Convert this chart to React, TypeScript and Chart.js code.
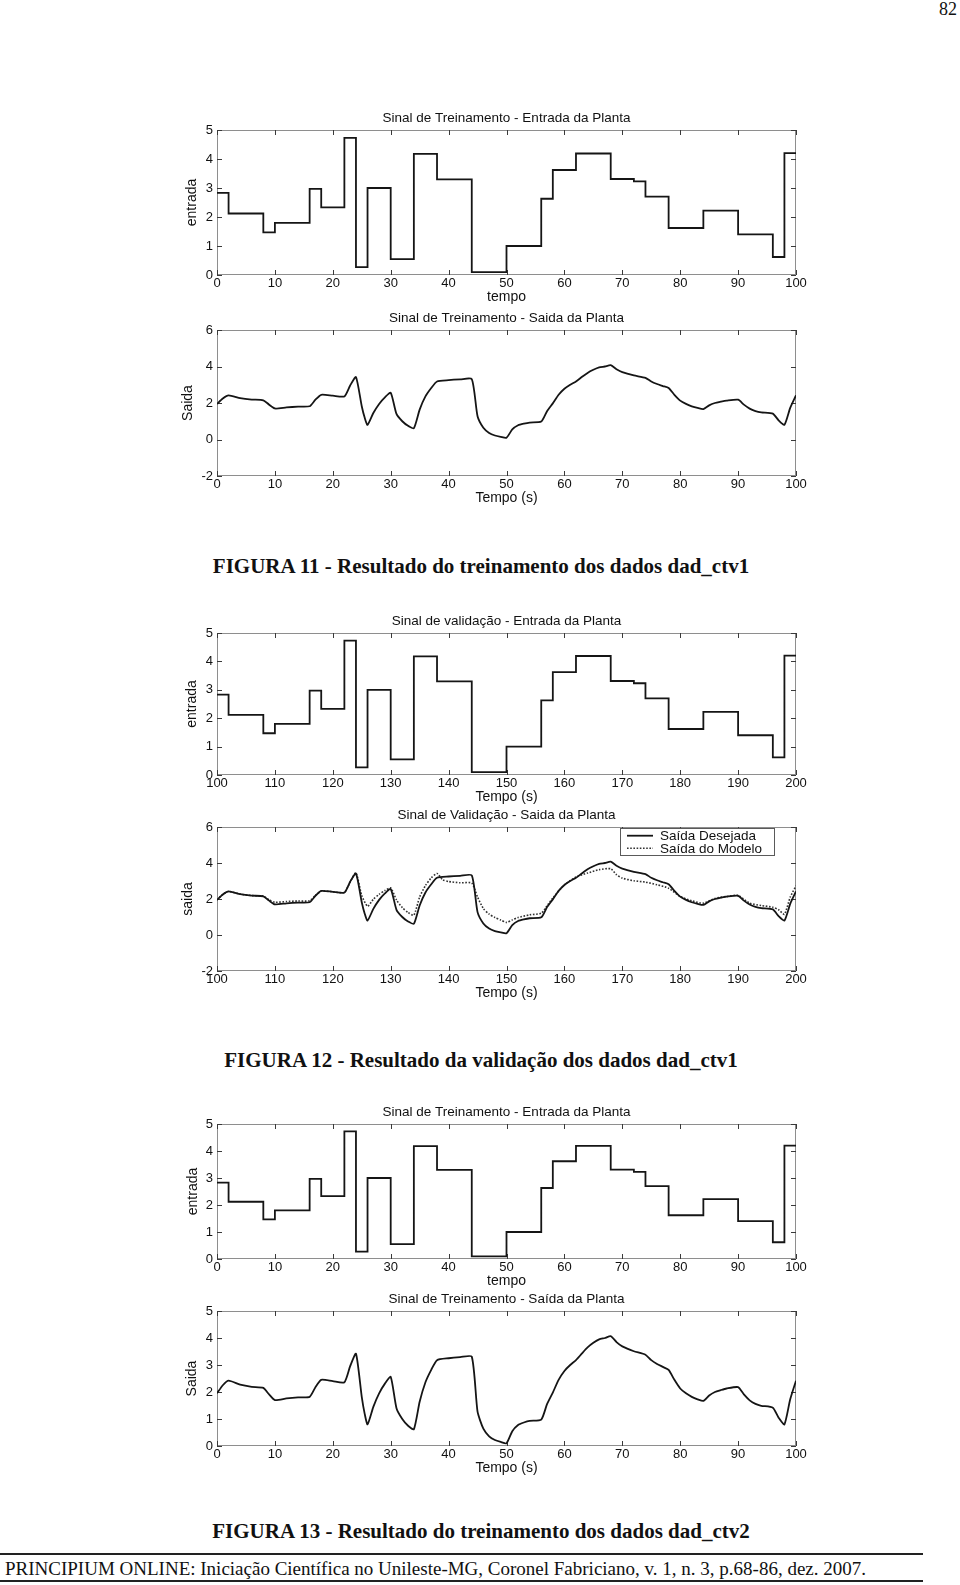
import React, { useEffect, useRef } from 'react';
import { Chart, registerables } from 'chart.js';

Chart.register(...registerables);

// ---------------- DATA ----------------
// Input (step) signal: value held from each time until the next one
const inputTimes = [0, 2, 8, 10, 16, 18, 22, 24, 26, 30, 34, 38, 44, 50, 56, 58, 62, 68, 72, 74, 78, 84, 90, 96, 98, 100];
const inputValues = [2.83, 2.12, 1.47, 1.8, 2.97, 2.33, 4.73, 0.27, 3.0, 0.55, 4.18, 3.3, 0.1, 1.0, 2.63, 3.62, 4.19, 3.31, 3.23, 2.7, 1.62, 2.22, 1.4, 0.62, 4.2, 4.2];

// Plant output (training / desired output)
const outputTimes = [0, 1, 2, 4, 6, 8, 9, 10, 12, 14, 16, 17, 18, 20, 22, 23, 24, 25, 25.5, 26, 27, 28, 29, 30, 31, 32, 33, 34, 35, 36, 37, 38, 40, 42, 44, 45, 46, 47, 48, 49, 50, 51, 52, 53, 54, 56, 57, 58, 59, 60, 61, 62, 63, 64, 65, 66, 67, 68, 69, 70, 72, 74, 75, 76, 77, 78, 79, 80, 81, 82, 83, 84, 85, 86, 87, 88, 90, 91, 92, 93, 94, 96, 97, 98, 99, 100];
const outputValues = [1.95, 2.25, 2.42, 2.27, 2.19, 2.15, 1.91, 1.7, 1.76, 1.8, 1.82, 2.18, 2.45, 2.4, 2.36, 2.96, 3.42, 1.82, 1.2, 0.8, 1.45, 1.95, 2.31, 2.56, 1.4, 1.0, 0.75, 0.62, 1.64, 2.36, 2.82, 3.18, 3.25, 3.29, 3.31, 1.27, 0.64, 0.36, 0.22, 0.15, 0.1, 0.55, 0.78, 0.87, 0.93, 0.98, 1.55, 1.98, 2.45, 2.78, 3.0, 3.18, 3.42, 3.65, 3.82, 3.95, 4.0, 4.07, 3.85, 3.69, 3.51, 3.38, 3.18, 3.04, 2.93, 2.82, 2.45, 2.13, 1.95, 1.82, 1.73, 1.67, 1.87, 2.0, 2.07, 2.13, 2.18, 1.91, 1.69, 1.56, 1.49, 1.42, 1.05, 0.8, 1.73, 2.42];

// Validation window starts at t = 100 s (same signal shown on 100..200)
const validationOffset = 100;

// Model output (validation)
const modelTimes = [100, 101, 102, 104, 106, 108, 109, 110, 112, 114, 116, 117, 118, 120, 122, 123, 124, 125, 126, 127, 128, 129, 130, 131, 132, 133, 134, 135, 136, 137, 138, 139, 140, 142, 144, 145, 146, 147, 148, 149, 150, 151, 152, 154, 156, 157, 158, 160, 162, 164, 166, 168, 169, 170, 172, 174, 176, 178, 180, 182, 184, 186, 188, 190, 192, 194, 196, 197, 198, 199, 200];
const modelValues = [1.95, 2.25, 2.42, 2.27, 2.19, 2.16, 1.95, 1.82, 1.86, 1.89, 1.9, 2.2, 2.44, 2.4, 2.36, 2.95, 3.45, 2.2, 1.6, 1.98, 2.26, 2.47, 2.62, 1.95, 1.52, 1.25, 1.1, 2.11, 2.75, 3.17, 3.42, 3.06, 2.97, 2.9, 2.88, 2.11, 1.47, 1.16, 0.97, 0.83, 0.7, 0.84, 0.97, 1.12, 1.21, 1.62, 2.05, 2.79, 3.22, 3.44, 3.63, 3.68, 3.35, 3.16, 3.01, 2.94, 2.79, 2.6, 2.14, 1.9, 1.77, 2.03, 2.14, 2.2, 1.77, 1.64, 1.54, 1.4, 1.15, 2.1, 2.73];

const legendLabels = ['Saída Desejada', 'Saída do Modelo'];

const captions = [
  'FIGURA 11 - Resultado do treinamento dos dados dad_ctv1',
  'FIGURA 12 - Resultado da validação dos dados dad_ctv1',
  'FIGURA 13 - Resultado do treinamento dos dados dad_ctv2',
];
const footerText = 'PRINCIPIUM ONLINE: Iniciação Científica no Unileste-MG, Coronel Fabriciano, v. 1, n. 3, p.68-86, dez. 2007.';
const pageNumber = '82';

// ---------------- STYLE / LAYOUT ----------------
const FONT = "'Liberation Sans', Arial, Helvetica, sans-serif";
const SERIF = "'Liberation Serif', 'Times New Roman', Times, serif";
const TEXT = '#111';
const LINE = '#151515';

const PLOT_LEFT = 217;
const PLOT_RIGHT = 796;
const CANVAS_LEFT = 180;
const CANVAS_W = 652;
const TITLE_SIZE = 13.5;
const TITLE_LH = TITLE_SIZE * 1.2;
const TICK_SIZE = 13;
const LABEL_SIZE = 14;
const LABEL_LH = LABEL_SIZE * 1.2;
const TITLE_GAP = 11;
const XAXIS_H = 30.5;

const pts = (xs: number[], ys: number[], off = 0) => xs.map((x, i) => ({ x: x + off, y: ys[i] }));

const inputDataset = (off = 0) => ({
  label: 'entrada',
  data: pts(inputTimes, inputValues, off),
  stepped: 'before' as const,
  borderColor: LINE,
  borderWidth: 1.8,
  pointRadius: 0,
  fill: false,
});
const outputDataset = (off = 0, label = 'saida') => ({
  label,
  data: pts(outputTimes, outputValues, off),
  borderColor: LINE,
  borderWidth: 1.8,
  pointRadius: 0,
  tension: 0.2,
  fill: false,
});
const modelDataset = () => ({
  label: legendLabels[1],
  data: pts(modelTimes, modelValues),
  borderColor: '#333',
  borderWidth: 1.6,
  borderDash: [1.6, 1.6],
  pointRadius: 0,
  tension: 0.2,
  fill: false,
});

type PlotSpec = {
  title: string;
  xLabel: string;
  yLabel: string;
  xMin: number;
  xMax: number;
  yMin: number;
  yMax: number;
  yStep: number;
  plotTop: number;
  plotBottom: number;
  yLabelX: number;
  legend?: boolean;
  datasets: any[];
};

const plots: PlotSpec[] = [
  { title: 'Sinal de Treinamento - Entrada da Planta', xLabel: 'tempo', yLabel: 'entrada', xMin: 0, xMax: 100, yMin: 0, yMax: 5, yStep: 1, plotTop: 130, plotBottom: 275, yLabelX: 192, datasets: [inputDataset()] },
  { title: 'Sinal de Treinamento - Saida da Planta', xLabel: 'Tempo (s)', yLabel: 'Saida', xMin: 0, xMax: 100, yMin: -2, yMax: 6, yStep: 2, plotTop: 330, plotBottom: 476, yLabelX: 188, datasets: [outputDataset()] },
  { title: 'Sinal de validação - Entrada da Planta', xLabel: 'Tempo (s)', yLabel: 'entrada', xMin: 100, xMax: 200, yMin: 0, yMax: 5, yStep: 1, plotTop: 633, plotBottom: 775, yLabelX: 192, datasets: [inputDataset(validationOffset)] },
  { title: 'Sinal de Validação - Saida da Planta', xLabel: 'Tempo (s)', yLabel: 'saida', xMin: 100, xMax: 200, yMin: -2, yMax: 6, yStep: 2, plotTop: 827, plotBottom: 971, yLabelX: 188, legend: true, datasets: [outputDataset(validationOffset, legendLabels[0]), modelDataset()] },
  { title: 'Sinal de Treinamento - Entrada da Planta', xLabel: 'tempo', yLabel: 'entrada', xMin: 0, xMax: 100, yMin: 0, yMax: 5, yStep: 1, plotTop: 1124, plotBottom: 1259, yLabelX: 193, datasets: [inputDataset()] },
  { title: 'Sinal de Treinamento - Saída da Planta', xLabel: 'Tempo (s)', yLabel: 'Saida', xMin: 0, xMax: 100, yMin: 0, yMax: 5, yStep: 1, plotTop: 1311, plotBottom: 1446, yLabelX: 192, datasets: [outputDataset()] },
];

// MATLAB-like box with inward tick marks on all four sides
const boxPlugin = {
  id: 'matlabBox',
  beforeDatasetsDraw(chart: any) {
    const { ctx, chartArea: a, scales } = chart;
    ctx.save();
    ctx.lineWidth = 1;
    ctx.strokeStyle = '#8e8e8e';
    ctx.strokeRect(a.left + 0.5, a.top + 0.5, a.right - a.left - 1, a.bottom - a.top - 1);
    ctx.strokeStyle = '#3a3a3a';
    ctx.beginPath();
    scales.x.ticks.forEach((t: any) => {
      const px = Math.round(scales.x.getPixelForValue(t.value)) + 0.5;
      ctx.moveTo(px, a.bottom);
      ctx.lineTo(px, a.bottom - 5);
      ctx.moveTo(px, a.top);
      ctx.lineTo(px, a.top + 5);
    });
    scales.y.ticks.forEach((t: any) => {
      const py = Math.round(scales.y.getPixelForValue(t.value)) + 0.5;
      ctx.moveTo(a.left, py);
      ctx.lineTo(a.left + 5, py);
      ctx.moveTo(a.right, py);
      ctx.lineTo(a.right - 5, py);
    });
    ctx.stroke();
    ctx.restore();
  },
};

// Boxed legend inside the top-right corner of the axes
const legendPlugin = {
  id: 'boxedLegend',
  afterDatasetsDraw(chart: any, _args: any, opts: any) {
    if (!opts || !opts.show) return;
    const { ctx, chartArea: a } = chart;
    const w = 154;
    const h = 27;
    const left = Math.round(a.right - 22 - w);
    const top = Math.round(a.top) + 1;
    ctx.save();
    ctx.fillStyle = '#fff';
    ctx.fillRect(left, top, w, h);
    ctx.strokeStyle = '#5a5a5a';
    ctx.lineWidth = 1;
    ctx.strokeRect(left + 0.5, top + 0.5, w, h);
    chart.data.datasets.forEach((ds: any, i: number) => {
      const cy = top + 7.7 + i * 12.6;
      ctx.strokeStyle = ds.borderColor;
      ctx.lineWidth = ds.borderWidth;
      ctx.setLineDash(ds.borderDash || []);
      ctx.beginPath();
      ctx.moveTo(left + 7, cy);
      ctx.lineTo(left + 33, cy);
      ctx.stroke();
      ctx.setLineDash([]);
      ctx.fillStyle = TEXT;
      ctx.font = `13.5px ${FONT}`;
      ctx.textBaseline = 'middle';
      ctx.textAlign = 'left';
      ctx.fillText(ds.label, left + 40, cy + 0.5);
    });
    ctx.restore();
  },
};

function PlotCanvas({ spec }: { spec: PlotSpec }) {
  const ref = useRef<HTMLCanvasElement>(null);
  const canvasTop = Math.floor(spec.plotTop - TITLE_GAP - TITLE_LH / 2);
  const height = Math.ceil(spec.plotBottom + XAXIS_H - canvasTop);

  useEffect(() => {
    if (!ref.current) return;
    const titlePadBottom = spec.plotTop - canvasTop - TITLE_LH;
    const xAxisHeight = height - (spec.plotBottom - canvasTop);
    const tickFont = { family: FONT, size: TICK_SIZE, lineHeight: 1.2 };
    const labelFont = { family: FONT, size: LABEL_SIZE, lineHeight: 1.2 };
    const chart = new Chart(ref.current, {
      type: 'line',
      data: { datasets: spec.datasets },
      options: {
        animation: false,
        responsive: false,
        devicePixelRatio: 1,
        layout: { padding: { left: 0, top: 0, bottom: 0, right: CANVAS_LEFT + CANVAS_W - PLOT_RIGHT } },
        plugins: {
          legend: { display: false },
          tooltip: { enabled: false },
          title: {
            display: true,
            text: spec.title,
            fullSize: false,
            color: TEXT,
            font: { family: FONT, size: TITLE_SIZE, weight: 'normal', lineHeight: 1.2 },
            padding: { top: 0, bottom: titlePadBottom },
          },
          boxedLegend: { show: !!spec.legend },
        } as any,
        scales: {
          x: {
            type: 'linear',
            min: spec.xMin,
            max: spec.xMax,
            grid: { display: false, drawTicks: false },
            border: { display: false },
            ticks: { stepSize: 10, autoSkip: false, maxRotation: 0, padding: 1, color: TEXT, font: tickFont },
            title: { display: true, text: spec.xLabel, color: TEXT, font: labelFont, padding: { top: 0, bottom: 0 } },
            afterFit: (s: any) => {
              s.height = xAxisHeight;
            },
          },
          y: {
            type: 'linear',
            min: spec.yMin,
            max: spec.yMax,
            grid: { display: false, drawTicks: false },
            border: { display: false },
            ticks: { stepSize: spec.yStep, padding: 4, color: TEXT, font: tickFont },
            title: {
              display: true,
              text: spec.yLabel,
              color: TEXT,
              font: labelFont,
              padding: { top: spec.yLabelX - CANVAS_LEFT - LABEL_LH / 2, bottom: 0 },
            },
            afterFit: (s: any) => {
              s.width = PLOT_LEFT - CANVAS_LEFT;
            },
          },
        },
      } as any,
      plugins: [boxPlugin, legendPlugin],
    });
    return () => chart.destroy();
  }, []);

  return (
    <canvas
      ref={ref}
      width={CANVAS_W}
      height={height}
      style={{ position: 'absolute', left: CANVAS_LEFT, top: canvasTop, display: 'block' }}
    />
  );
}

const captionTops = [554, 1048, 1519];

export default function App() {
  return (
    <div style={{ position: 'absolute', left: 0, top: 0, width: 960, height: 1585, overflow: 'hidden', background: '#fff' }}>
      <div style={{ position: 'absolute', right: 3, top: 0, fontFamily: SERIF, fontSize: 18, lineHeight: '18px', color: '#111' }}>
        {pageNumber}
      </div>
      {plots.map((p, i) => (
        <PlotCanvas key={i} spec={p} />
      ))}
      {captions.map((c, i) => (
        <div
          key={i}
          style={{
            position: 'absolute',
            left: 0,
            width: 962,
            top: captionTops[i],
            textAlign: 'center',
            fontFamily: SERIF,
            fontWeight: 'bold',
            fontSize: 21,
            lineHeight: '24px',
            color: '#111',
            whiteSpace: 'nowrap',
          }}
        >
          {c}
        </div>
      ))}
      <div style={{ position: 'absolute', left: 0, top: 1553, width: 923, height: 1.5, background: '#222' }} />
      <div
        style={{
          position: 'absolute',
          left: 5,
          top: 1558,
          fontFamily: SERIF,
          fontSize: 19,
          lineHeight: '21px',
          color: '#111',
          whiteSpace: 'nowrap',
        }}
      >
        {footerText}
      </div>
      <div style={{ position: 'absolute', left: 0, top: 1580, width: 923, height: 1.5, background: '#222' }} />
    </div>
  );
}
